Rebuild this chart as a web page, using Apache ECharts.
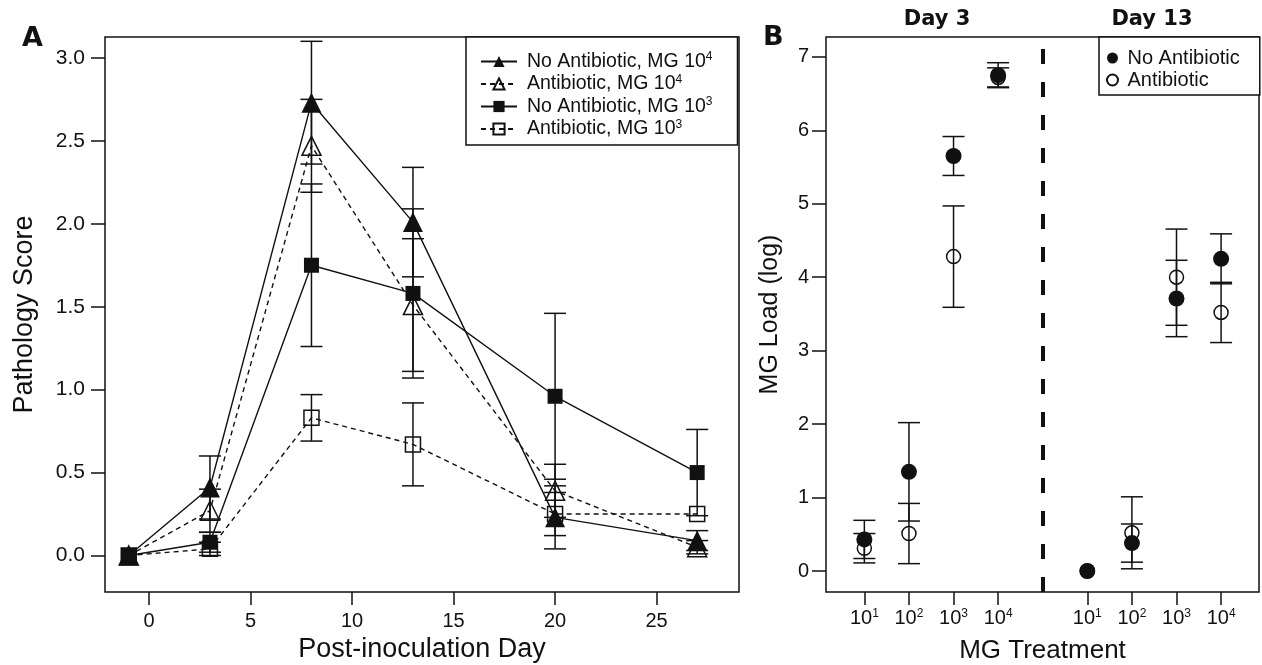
<!DOCTYPE html>
<html>
<head>
<meta charset="utf-8">
<title>Pathology score and MG load</title>
<script src="https://cdn.jsdelivr.net/npm/echarts@6/dist/echarts.min.js"></script>
<style>
  html, body { margin: 0; padding: 0; background: #fff; }
  #main { width: 1262px; height: 665px; }
</style>
</head>
<body>
<div id="main"></div>
<script type="text/javascript">
// ---- panel A: pathology score by post-inoculation day ----
var days = [-1, 3, 8, 13, 20, 27];
var namesA = ['No Antibiotic, MG 10^4', 'Antibiotic, MG 10^4', 'No Antibiotic, MG 10^3', 'Antibiotic, MG 10^3'];
var noAb4 = [0, 0.41, 2.73, 2.01, 0.23, 0.09];
var noAb4Err = [0, 0.19, 0.37, 0.33, 0.19, 0.06];
var ab4 = [0, 0.27, 2.47, 1.51, 0.39, 0.05];
var ab4Err = [0, 0.13, 0.28, 0.40, 0.16, 0.04];
var noAb3 = [0, 0.08, 1.75, 1.58, 0.96, 0.50];
var noAb3Err = [0, 0.06, 0.49, 0.51, 0.50, 0.26];
var ab3 = [0, 0.04, 0.83, 0.67, 0.25, 0.25];
var ab3Err = [0, 0.04, 0.14, 0.25, 0.13, 0];
var ticksXA = [0, 5, 10, 15, 20, 25];
var ticksYA = [0, 0.5, 1, 1.5, 2, 2.5, 3];

// ---- panel B: MG load by treatment dose, day 3 and day 13 ----
var posB = [1, 2, 3, 4, 6, 7, 8, 9];
var expB = ['1', '2', '3', '4', '1', '2', '3', '4'];
var noAbLoad = [0.43, 1.35, 5.65, 6.75, 0, 0.38, 3.71, 4.25];
var noAbLoadErr = [0.26, 0.67, 0.265, 0.17, 0, 0.26, 0.52, 0.34];
var abLoad = [0.31, 0.51, 4.28, 6.72, 0, 0.52, 4.00, 3.52];
var abLoadErr = [0.20, 0.41, 0.69, 0.13, 0, 0.49, 0.655, 0.41];
var ticksYB = [0, 1, 2, 3, 4, 5, 6, 7];
var dayDivider = 5;

var ink = '#111';
var font = 'Liberation Sans, Arial, sans-serif';

function pairs(xs, ys) {
    return xs.map(function (x, i) { return [x, ys[i]]; });
}
function errData(xs, ys, es) {
    var res = [];
    xs.forEach(function (x, i) {
        if (es[i] > 0) res.push([x, ys[i] - es[i], ys[i] + es[i]]);
    });
    return res;
}
function errBars(data, xi, capHalf) {
    return {
        type: 'custom',
        xAxisIndex: xi, yAxisIndex: xi,
        silent: true,
        z: 5,
        encode: { x: 0, y: [1, 2] },
        data: data,
        renderItem: function (params, api) {
            var top = api.coord([api.value(0), api.value(2)]);
            var bot = api.coord([api.value(0), api.value(1)]);
            var st = { stroke: ink, lineWidth: 1.5 };
            return {
                type: 'group',
                children: [
                    { type: 'line', shape: { x1: top[0], y1: top[1], x2: bot[0], y2: bot[1] }, style: st },
                    { type: 'line', shape: { x1: top[0] - capHalf, y1: top[1], x2: top[0] + capHalf, y2: top[1] }, style: st },
                    { type: 'line', shape: { x1: bot[0] - capHalf, y1: bot[1], x2: bot[0] + capHalf, y2: bot[1] }, style: st }
                ]
            };
        }
    };
}
function lineA(name, ys, symbol, size, filled, dashed) {
    return {
        name: name,
        type: 'line',
        xAxisIndex: 0, yAxisIndex: 0,
        data: pairs(days, ys),
        symbol: symbol,
        symbolSize: size,
        showAllSymbol: true,
        z: 3,
        lineStyle: { color: ink, width: 1.4, type: dashed ? [5, 4] : 'solid' },
        itemStyle: { color: filled ? ink : 'rgba(255,255,255,0)', borderColor: ink, borderWidth: filled ? 0 : 1.5, opacity: 1 }
    };
}

var myChart = echarts.init(document.getElementById('main'));

var noLine = { show: false, onZero: false };

var option = {
    animation: false,
    backgroundColor: '#fff',
    textStyle: { fontFamily: font, color: ink },
    grid: [
        { left: 105, top: 37, width: 634, height: 555, outerBoundsMode: 'none', containLabel: false,
          show: true, borderColor: ink, borderWidth: 1.5, backgroundColor: 'transparent' },
        { left: 826, top: 37, width: 433, height: 555, outerBoundsMode: 'none', containLabel: false,
          show: true, borderColor: ink, borderWidth: 1.5, backgroundColor: 'transparent' }
    ],
    xAxis: [
        {
            gridIndex: 0, type: 'value', min: -2.17, max: 29.06,
            name: 'Post-inoculation Day', nameLocation: 'middle', nameGap: 42,
            nameTextStyle: { fontSize: 27, color: ink, fontFamily: font },
            axisLine: noLine,
            splitLine: { show: false },
            axisTick: { show: true, length: 13, customValues: ticksXA, lineStyle: { color: ink, width: 1.5 } },
            axisLabel: { customValues: ticksXA, fontSize: 20, margin: 19, color: ink, fontFamily: font }
        },
        {
            gridIndex: 1, type: 'value', min: 0.14, max: 9.85,
            name: 'MG Treatment', nameLocation: 'middle', nameGap: 46,
            nameTextStyle: { fontSize: 26, color: ink, fontFamily: font },
            axisLine: noLine,
            splitLine: { show: false },
            axisTick: { show: true, length: 13, customValues: posB, lineStyle: { color: ink, width: 1.5 } },
            axisLabel: {
                customValues: posB, margin: 16, color: ink, fontFamily: font, fontSize: 20,
                formatter: function (v) {
                    var i = posB.indexOf(Math.round(v));
                    return '10{sup|' + expB[i] + '}';
                },
                rich: { sup: { fontSize: 12, color: ink, fontFamily: font, verticalAlign: 'bottom', padding: [0, 0, 9, 0] } }
            }
        }
    ],
    yAxis: [
        {
            gridIndex: 0, type: 'value', min: -0.22, max: 3.126,
            name: 'Pathology Score', nameLocation: 'middle', nameGap: 67,
            nameTextStyle: { fontSize: 27, color: ink, fontFamily: font },
            axisLine: noLine,
            splitLine: { show: false },
            axisTick: { show: true, length: 14, customValues: ticksYA, lineStyle: { color: ink, width: 1.5 } },
            axisLabel: {
                customValues: ticksYA, fontSize: 21, margin: 20, color: ink, fontFamily: font,
                formatter: function (v) { return v.toFixed(1); }
            }
        },
        {
            gridIndex: 1, type: 'value', min: -0.286, max: 7.27,
            name: 'MG Load (log)', nameLocation: 'middle', nameGap: 43,
            nameTextStyle: { fontSize: 25, color: ink, fontFamily: font },
            axisLine: noLine,
            splitLine: { show: false },
            axisTick: { show: true, length: 14, customValues: ticksYB, lineStyle: { color: ink, width: 1.5 } },
            axisLabel: { customValues: ticksYB, fontSize: 20, margin: 17, color: ink, fontFamily: font }
        }
    ],
    legend: [
        {
            data: namesA,
            orient: 'vertical', left: 466, top: 37,
            backgroundColor: '#fff',
            borderColor: ink, borderWidth: 1.5,
            padding: [14, 25, 6, 14],
            itemGap: 2, itemWidth: 36, itemHeight: 14,
            selectedMode: false,
            formatter: function (n) { return n.replace(/\^(\d)/, '{sup|$1}'); },
            textStyle: {
                fontSize: 19.5, color: ink, fontFamily: font, padding: [0, 0, 0, 5],
                rich: { sup: { fontSize: 12, color: ink, fontFamily: font, verticalAlign: 'bottom', padding: [0, 0, 9, 0] } }
            }
        },
        {
            data: ['No Antibiotic', 'Antibiotic'],
            orient: 'vertical', left: 1099, top: 37,
            backgroundColor: '#fff',
            borderColor: ink, borderWidth: 1.5,
            padding: [11, 20, 5, 7],
            itemGap: 2, itemWidth: 18, itemHeight: 11,
            selectedMode: false,
            textStyle: { fontSize: 20, color: ink, fontFamily: font, padding: [0, 0, 0, 1] }
        }
    ],
    graphic: [
        { type: 'text', left: 22, top: 25, style: { text: 'A', font: 'bold 27px DejaVu Sans', fill: ink } },
        { type: 'text', left: 763, top: 24, style: { text: 'B', font: 'bold 27px DejaVu Sans', fill: ink } },
        { type: 'text', x: 937, y: 20, style: { text: 'Day 3', font: 'bold 21px DejaVu Sans', fill: ink, align: 'center', verticalAlign: 'middle' } },
        { type: 'text', x: 1152, y: 20, style: { text: 'Day 13', font: 'bold 21px DejaVu Sans', fill: ink, align: 'center', verticalAlign: 'middle' } }
    ],
    series: [
        lineA(namesA[0], noAb4, 'triangle', 20, true, false),
        lineA(namesA[1], ab4, 'triangle', 19, false, true),
        lineA(namesA[2], noAb3, 'rect', 15, true, false),
        lineA(namesA[3], ab3, 'rect', 15, false, true),
        errBars(errData(days, noAb4, noAb4Err), 0, 11),
        errBars(errData(days, ab4, ab4Err), 0, 11),
        errBars(errData(days, noAb3, noAb3Err), 0, 11),
        errBars(errData(days, ab3, ab3Err), 0, 11),
        {
            name: 'Antibiotic',
            type: 'scatter',
            xAxisIndex: 1, yAxisIndex: 1,
            data: pairs(posB, abLoad),
            symbol: 'circle', symbolSize: 14, z: 3,
            itemStyle: { color: 'rgba(255,255,255,0)', borderColor: ink, borderWidth: 1.5, opacity: 1 }
        },
        {
            name: 'No Antibiotic',
            type: 'scatter',
            xAxisIndex: 1, yAxisIndex: 1,
            data: pairs(posB, noAbLoad),
            symbol: 'circle', symbolSize: 16, z: 4,
            itemStyle: { color: ink, opacity: 1 },
            markLine: {
                silent: true,
                symbol: ['none', 'none'],
                label: { show: false },
                lineStyle: { color: ink, width: 4, type: [15, 18] },
                data: [{ xAxis: dayDivider }]
            }
        },
        errBars(errData(posB, noAbLoad, noAbLoadErr), 1, 11),
        errBars(errData(posB, abLoad, abLoadErr), 1, 11)
    ]
};

myChart.setOption(option);
</script>
</body>
</html>
